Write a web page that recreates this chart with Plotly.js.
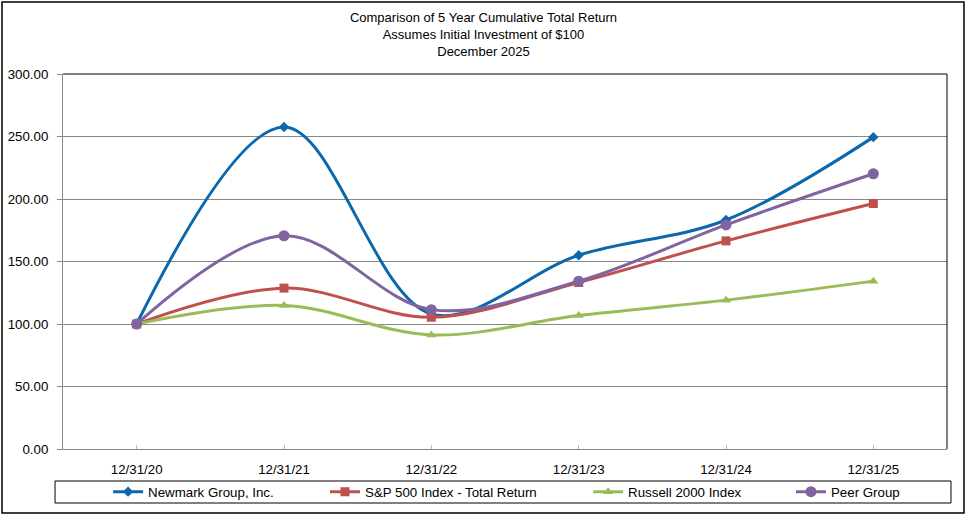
<!DOCTYPE html>
<html>
<head>
<meta charset="utf-8">
<script src="https://cdn.plot.ly/plotly-3.0.1.min.js"></script>
<style>
  body { margin: 0; background: #fff; }
  #myPlot { width: 967px; height: 516px; }
</style>
</head>
<body>
<div id="myPlot"></div>
<script>
// values
const dates = ["12/31/20", "12/31/21", "12/31/22", "12/31/23", "12/31/24", "12/31/25"];
const newmark = [100, 257.6, 108, 155, 183.2, 249.5];
const sp500 = [100, 128.7, 105.4, 133.2, 166.5, 196.4];
const russell = [100, 114.8, 91.3, 106.8, 119.1, 134.3];
const peer = [100, 170.6, 111.5, 134.3, 179.3, 220.2];

const names = ["Newmark Group, Inc.", "S&P 500 Index - Total Return", "Russell 2000 Index", "Peer Group"];
const colors = ["#0B68AC", "#C0504D", "#9BBB59", "#8064A2"];
const symbols = ["diamond", "square", "triangle-up", "circle"];
const sizes = [8, 9, 9, 11];
const legendX = [0.051, 0.2964, 0.594, 0.8235];

const series = [newmark, sp500, russell, peer];
const legendIds = ["legend", "legend2", "legend3", "legend4"];

const data = series.map(function(vals, i) {
    return {
        x: dates,
        y: vals,
        name: names[i],
        mode: "lines+markers",
        line: {color: colors[i], width: 3, shape: "spline", smoothing: 1},
        marker: {color: colors[i], symbol: symbols[i], size: sizes[i]},
        legend: legendIds[i]
    };
});

const font = {family: "Liberation Sans, Arial, sans-serif", size: 13.3, color: "#000"};

const layout = {
    width: 967,
    height: 516,
    margin: {l: 63, r: 20, t: 74, b: 67},
    paper_bgcolor: "#fff",
    plot_bgcolor: "#fff",
    font: font,
    showlegend: true,
    title: {
        text: "Comparison of 5 Year Cumulative Total Return<br>Assumes Initial Investment of $100<br>December 2025",
        font: {family: font.family, size: 13, color: "#000"},
        x: 0.5,
        xanchor: "center",
        y: 0.957,
        yanchor: "top"
    },
    xaxis: {
        type: "category",
        range: [-0.5, 5.5],
        showgrid: false,
        showline: true,
        linecolor: "#888",
        linewidth: 1,
        ticks: "inside",
        ticklen: 4,
        tickcolor: "#bbb",
        tickfont: font,
        ticklabelstandoff: 8,
        zeroline: false,
        fixedrange: true
    },
    yaxis: {
        range: [0, 300],
        dtick: 50,
        tickformat: ".2f",
        showgrid: true,
        gridcolor: "#888",
        gridwidth: 1,
        showline: true,
        linecolor: "#888",
        ticks: "outside",
        ticklen: 5,
        tickcolor: "#888",
        tickfont: font,
        ticklabelstandoff: 6,
        zeroline: false,
        fixedrange: true
    },
    shapes: [
        // plot area top and right border
        {type: "line", xref: "paper", yref: "paper", x0: 0, x1: 1, y0: 1, y1: 1, line: {color: "#000", width: 1}},
        {type: "line", xref: "paper", yref: "paper", x0: 1, x1: 1, y0: 0, y1: 1, line: {color: "#000", width: 1}},
        // legend box
        {type: "rect", xref: "paper", yref: "paper", x0: -0.009, x1: 1.0045, y0: -0.144, y1: -0.0853, line: {color: "#000", width: 1}},
        // outer chart border
        {type: "rect", xref: "paper", yref: "paper", x0: -0.069, x1: 1.0192, y0: -0.1707, y1: 1.192, line: {color: "#000", width: 1.5}}
    ]
};

legendIds.forEach(function(id, i) {
    layout[id] = {
        x: legendX[i],
        xanchor: "left",
        yref: "container",
        y: 0.0465,
        yanchor: "middle",
        orientation: "h",
        bgcolor: "rgba(0,0,0,0)",
        borderwidth: 0,
        itemwidth: 30,
        font: font
    };
});

Plotly.newPlot("myPlot", data, layout, {displaylogo: false, staticPlot: true});
</script>
</body>
</html>
